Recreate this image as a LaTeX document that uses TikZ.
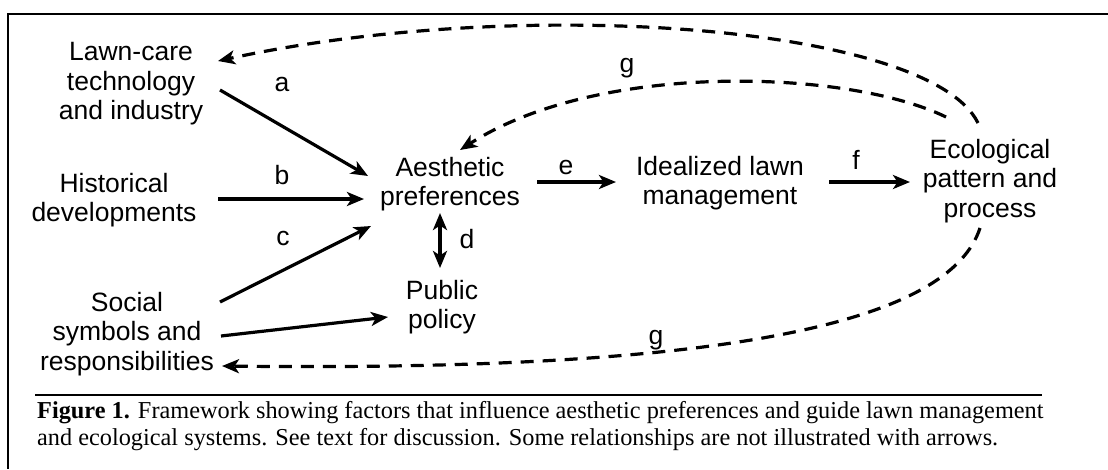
\documentclass[tikz,border=0pt]{standalone}
\usepackage{fontspec}
\setmainfont{Liberation Serif}
\newfontfamily\arial{Liberation Sans}
\usetikzlibrary{arrows.meta}
\begin{document}
\begin{tikzpicture}[x=1pt,y=-1pt,
  lbl/.style={font=\arial\fontsize{26.5}{29.5}\selectfont, align=center, inner sep=0pt},
  ltr/.style={font=\arial\fontsize{26.5}{29.5}\selectfont, inner sep=0pt},
  tip/.tip={Stealth[length=17pt,width=14pt,inset=4.5pt]},
  solidarrow/.style={line width=3.2pt, -tip},
  dasharrow/.style={line width=3.2pt, dash pattern=on 13pt off 9pt, -tip},
  frameline/.style={line width=2.2pt}]
\useasboundingbox (0,0) rectangle (1108,469);
% frame
\coordinate (ftl) at (8,14);
\coordinate (ftr) at (1108,14);
\coordinate (fbl) at (8,469);
\draw[frameline] (ftr) -- (ftl) -- (fbl);
\coordinate (sepl) at (35,395);
\coordinate (sepr) at (1042,395);
\draw[line width=1.8pt] (sepl) -- (sepr);
% nodes
\node[lbl] (lawn) at (131,84) {Lawn-care\\technology\\and industry};
\node[lbl] (hist) at (114,200) {Historical\\developments};
\node[lbl] (social) at (127,334) {Social\\symbols and\\responsibilities};
\node[lbl] (aest) at (450,184) {Aesthetic\\preferences};
\node[lbl] (policy) at (442,307) {Public\\policy};
\node[lbl] (ideal) at (720,183) {Idealized lawn\\management};
\node[lbl] (eco) at (990,181) {Ecological\\pattern and\\process};
% letters
\node[ltr] (la) at (282,84) {a};
\node[ltr] (lb) at (282,175) {b};
\node[ltr] (lc) at (283,238) {c};
\node[ltr] (ld) at (467,239) {d};
\node[ltr] (le) at (566,167) {e};
\node[ltr] (lf) at (856,160) {f};
\node[ltr] (lg1) at (627,68) {g};
\node[ltr] (lg2) at (656,340) {g};
% arrow end points
\coordinate (a0) at (220,90);  \coordinate (a1) at (368,176);
\coordinate (b0) at (218,199); \coordinate (b1) at (364,199);
\coordinate (c0) at (220,302); \coordinate (c1) at (371,226);
\coordinate (p0) at (221,336); \coordinate (p1) at (388,317);
\coordinate (d0) at (440,213); \coordinate (d1) at (440,268);
\coordinate (e0) at (537,182); \coordinate (e1) at (616,182);
\coordinate (f0) at (829,182); \coordinate (f1) at (910,182);
\coordinate (g0) at (978,123); \coordinate (g1) at (218,61);
\coordinate (h0) at (946,117); \coordinate (h1) at (460,150);
\coordinate (k0) at (980,228); \coordinate (k1) at (222,366);
% solid arrows
\draw[solidarrow] (a0) -- (a1);
\draw[solidarrow] (b0) -- (b1);
\draw[solidarrow] (c0) -- (c1);
\draw[solidarrow] (p0) -- (p1);
\draw[solidarrow, tip-tip] (d0) -- (d1);
\draw[solidarrow] (e0) -- (e1);
\draw[solidarrow] (f0) -- (f1);
% dashed feedback arrows
\draw[dasharrow] (g0) .. controls (930,25) and (520,-5) .. (g1);
\draw[dasharrow] (h0) .. controls (850,70) and (600,60) .. (h1);
\draw[dasharrow] (k0) .. controls (950,320) and (740,372) .. (k1);
% caption
\node[anchor=west, inner sep=0pt, font=\fontsize{24.3}{26.5}\selectfont, align=left] (cap) at (37,426)
 {\textbf{Figure 1.} Framework showing factors that influence aesthetic preferences and guide lawn management\\
  and ecological systems. See text for discussion. Some relationships are not illustrated with arrows.};
\end{tikzpicture}
\end{document}
